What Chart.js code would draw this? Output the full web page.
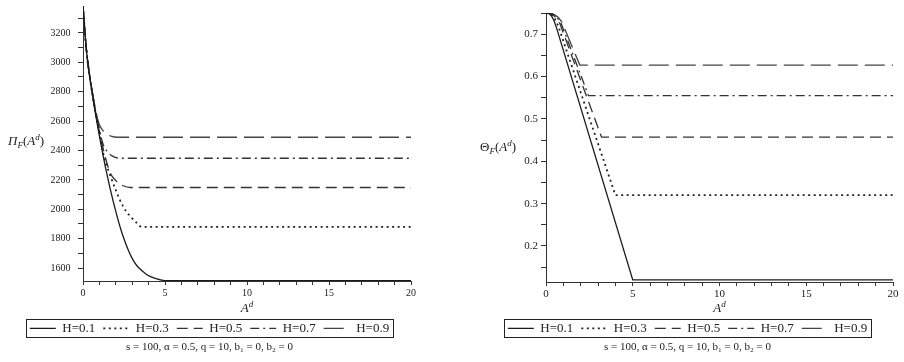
<!DOCTYPE html>
<html>
<head>
<meta charset="utf-8">
<script src="https://cdn.jsdelivr.net/npm/chart.js@4"></script>
<style>
    body { margin: 0; background: #fff; width: 904px; height: 362px; overflow: hidden; position: relative; }
    .wrap { position: absolute; top: 0; width: 452px; height: 362px; }
</style>
</head>
<body>
<div class="wrap" style="left:0"><canvas id="piChart"></canvas></div>
<div class="wrap" style="left:452px"><canvas id="thetaChart"></canvas></div>
<script>
// values
const hLabels = ['H=0.1', 'H=0.3', 'H=0.5', 'H=0.7', 'H=0.9'];
const caption = 's = 100, α = 0.5, q = 10, b₁ = 0, b₂ = 0';

// left panel: profit vs A^d
const piX01 = [0, 0.2, 0.6, 1.0, 1.4, 1.85, 2.4, 3.1, 3.9, 4.5, 5, 20];
const piY01 = [3383, 3090, 2760, 2500, 2270, 2050, 1830, 1645, 1555, 1527, 1515, 1515];
const piX03 = [0, 0.2, 0.6, 1.0, 1.3, 1.65, 2.0, 2.46, 2.9, 3.2, 3.6, 20];
const piY03 = [3383, 3092, 2765, 2515, 2350, 2234, 2130, 2016, 1950, 1915, 1880, 1880];
const piX05 = [0, 0.2, 0.6, 1.0, 1.3, 1.65, 2.0, 2.45, 2.9, 20];
const piY05 = [3383, 3094, 2770, 2530, 2380, 2250, 2195, 2160, 2148, 2148];
const piX07 = [0, 0.2, 0.6, 1.0, 1.22, 1.5, 1.8, 2.3, 20];
const piY07 = [3383, 3096, 2775, 2545, 2445, 2390, 2362, 2347, 2347];
const piX09 = [0, 0.2, 0.6, 0.95, 1.15, 1.4, 1.7, 2.1, 20];
const piY09 = [3383, 3098, 2780, 2590, 2545, 2515, 2498, 2490, 2490];

// right panel: theta vs A^d
const thX01 = [0, 0.15, 0.3, 0.45, 0.6, 5, 20];
const thY01 = [0.75, 0.749, 0.744, 0.733, 0.716, 0.12, 0.12];
const thX03 = [0, 0.2, 0.35, 0.5, 0.7, 4.0, 20];
const thY03 = [0.75, 0.749, 0.745, 0.737, 0.72, 0.32, 0.32];
const thX05 = [0, 0.2, 0.4, 0.6, 0.8, 3.2, 20];
const thY05 = [0.75, 0.7495, 0.746, 0.738, 0.725, 0.457, 0.457];
const thX07 = [0, 0.25, 0.45, 0.65, 0.85, 2.45, 20];
const thY07 = [0.75, 0.7495, 0.746, 0.739, 0.728, 0.555, 0.555];
const thX09 = [0, 0.3, 0.5, 0.7, 0.9, 1.95, 20];
const thY09 = [0.75, 0.7495, 0.746, 0.74, 0.73, 0.627, 0.627];

const serif = "'Liberation Serif', 'DejaVu Serif', serif";
const ink = '#222';
const lineStyles = [
    { color: '#1a1a1a', dash: [], width: 1.3 },
    { color: '#222', dash: [2, 3.5], width: 1.8 },
    { color: '#333', dash: [11, 6], width: 1.3 },
    { color: '#333', dash: [9, 4, 2, 4], width: 1.3 },
    { color: '#444', dash: [20, 7], width: 1.3 }
];

function pts(xs, ys) {
    return xs.map((x, i) => ({ x: x, y: ys[i] }));
}

function makeSets(pairs, smooth) {
    return pairs.map((p, i) => ({
        label: hLabels[i],
        data: pts(p[0], p[1]),
        borderColor: lineStyles[i].color,
        backgroundColor: lineStyles[i].color,
        borderWidth: lineStyles[i].width,
        borderDash: lineStyles[i].dash,
        pointRadius: 0,
        fill: false,
        cubicInterpolationMode: smooth ? 'monotone' : 'default',
        tension: 0
    }));
}

// legend samples take the dataset dash, not the point style
function legendLabels(chart) {
    return Chart.defaults.plugins.legend.labels.generateLabels(chart).map((it, i) => Object.assign(it, {
        lineDash: lineStyles[i].dash,
        lineWidth: lineStyles[i].width,
        strokeStyle: lineStyles[i].color,
        fillStyle: 'rgba(0,0,0,0)'
    }));
}

// draws a row of text pieces (for sub/superscripts)
function drawRich(ctx, x, y, parts, center) {
    ctx.save();
    ctx.fillStyle = ink;
    ctx.textBaseline = 'alphabetic';
    ctx.textAlign = 'left';
    let total = 0;
    parts.forEach(p => {
        ctx.font = (p.it ? 'italic ' : '') + p.size + 'px ' + serif;
        total += ctx.measureText(p.t).width;
    });
    let cx = center ? x - total / 2 : x;
    parts.forEach(p => {
        ctx.font = (p.it ? 'italic ' : '') + p.size + 'px ' + serif;
        ctx.fillText(p.t, cx, y + (p.dy || 0));
        cx += ctx.measureText(p.t).width;
    });
    ctx.restore();
}

const adTitle = [{ t: 'A', size: 13, it: true }, { t: 'd', size: 9, it: true, dy: -5 }];

const extras = {
    id: 'extras',
    afterDraw(chart) {
        const ctx = chart.ctx;
        const o = chart.options.plugins.extras;
        // y title, horizontal like the original
        drawRich(ctx, o.yTitleX, o.yTitleY, o.yTitle, false);
        // x title
        const a = chart.chartArea;
        drawRich(ctx, (a.left + a.right) / 2, o.xTitleY, adTitle, true);
        // frame around legend
        const hb = chart.legend.legendHitBoxes;
        if (hb && hb.length) {
            const l = Math.min(...hb.map(b => b.left));
            const r = Math.max(...hb.map(b => b.left + b.width));
            const t = Math.min(...hb.map(b => b.top));
            const btm = Math.max(...hb.map(b => b.top + b.height));
            ctx.save();
            ctx.strokeStyle = '#222';
            ctx.lineWidth = 1;
            ctx.strokeRect(Math.round(l - 4) + 0.5, Math.round(t - 3) + 0.5, Math.round(r - l + 8), Math.round(btm - t + 5));
            ctx.restore();
        }
    }
};

function baseOptions(cfg) {
    return {
        responsive: true,
        maintainAspectRatio: false,
        animation: false,
        layout: { padding: { left: cfg.padLeft, right: cfg.padRight, top: cfg.padTop, bottom: 2 } },
        plugins: {
            legend: {
                position: 'bottom',
                labels: {
                    usePointStyle: true,
                    pointStyle: 'line',
                    pointStyleWidth: 26,
                    padding: 8,
                    color: ink,
                    font: { family: serif, size: 13 },
                    generateLabels: legendLabels
                }
            },
            title: {
                display: true,
                position: 'bottom',
                text: caption,
                color: ink,
                font: { family: serif, size: 11, weight: 'normal' },
                padding: { top: -4, bottom: 6 }
            },
            tooltip: { enabled: false },
            extras: cfg.extras
        },
        scales: {
            x: {
                type: 'linear',
                min: 0,
                max: 20,
                ticks: {
                    stepSize: 1,
                    autoSkip: false,
                    maxRotation: 0,
                    includeBounds: false,
                    padding: 2,
                    color: ink,
                    font: { family: serif, size: cfg.tickSize },
                    callback: v => (v % 5 === 0 ? v : '')
                },
                grid: { drawOnChartArea: false, tickLength: 4, color: '#333' },
                border: { color: '#333', width: 1 },
                afterFit: s => { s.height = cfg.xHeight; }
            },
            y: {
                type: 'linear',
                min: cfg.yMin,
                max: cfg.yMax,
                ticks: {
                    stepSize: cfg.yStep,
                    includeBounds: false,
                    padding: cfg.yPad,
                    color: ink,
                    font: { family: serif, size: cfg.tickSize },
                    callback: cfg.yLabel
                },
                grid: { drawOnChartArea: false, tickLength: 5, color: '#333' },
                border: { color: '#333', width: 1 },
                afterFit: s => { s.width = cfg.yWidth; }
            }
        }
    };
}

new Chart(document.getElementById('piChart'), {
    type: 'line',
    data: {
        datasets: makeSets([[piX01, piY01], [piX03, piY03], [piX05, piY05], [piX07, piY07], [piX09, piY09]], true)
    },
    options: baseOptions({
        padLeft: 8, padRight: 41, padTop: 5,
        xHeight: 32.8, yWidth: 75, tickSize: 10, yPad: 0,
        yMin: 1512, yMax: 3383, yStep: 100,
        // trailing spaces keep the numbers off the axis, as in the original
        yLabel: v => (v % 200 === 0 ? v + '\u2002 ' : ''),
        extras: {
            yTitleX: 8, yTitleY: 145, xTitleY: 312,
            yTitle: [
                { t: 'Π', size: 13, it: true }, { t: 'F', size: 9, it: true, dy: 3 },
                { t: '(', size: 13 }, { t: 'A', size: 13, it: true }, { t: 'd', size: 9, it: true, dy: -5 }, { t: ')', size: 13 }
            ]
        }
    }),
    plugins: [extras]
});

new Chart(document.getElementById('thetaChart'), {
    type: 'line',
    data: {
        datasets: makeSets([[thX01, thY01], [thX03, thY03], [thX05, thY05], [thX07, thY07], [thX09, thY09]], false)
    },
    options: baseOptions({
        padLeft: 30, padRight: 11, padTop: 13,
        xHeight: 31.8, yWidth: 64, tickSize: 11, yPad: 3,
        yMin: 0.115, yMax: 0.75, yStep: 0.05,
        yLabel: v => (Math.abs(v * 10 - Math.round(v * 10)) < 1e-6 ? v.toFixed(1) : ''),
        extras: {
            yTitleX: 28, yTitleY: 151, xTitleY: 312,
            yTitle: [
                { t: 'Θ', size: 13 }, { t: 'F', size: 9, it: true, dy: 3 },
                { t: '(', size: 13 }, { t: 'A', size: 13, it: true }, { t: 'd', size: 9, it: true, dy: -5 }, { t: ')', size: 13 }
            ]
        }
    }),
    plugins: [extras]
});
</script>
</body>
</html>
